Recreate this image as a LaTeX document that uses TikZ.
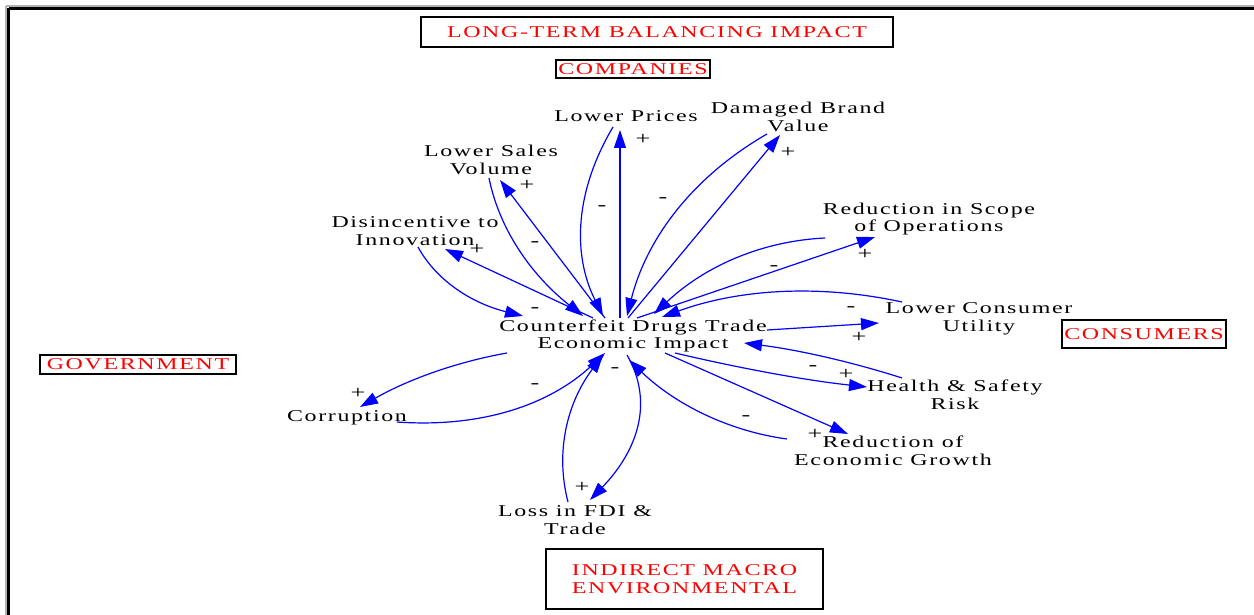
\documentclass[tikz,border=0pt]{standalone}
\usepackage{fontspec}
\setmainfont{Liberation Serif}[FakeStretch=1.45,LetterSpace=10]
\usetikzlibrary{arrows.meta,calc}
\begin{document}
\begin{tikzpicture}[x=1pt,y=-1pt,
  lbl/.style={font=\fontsize{16.5}{17.5}\selectfont, align=center, inner sep=1pt},
  sgn/.style={font=\fontsize{18}{18}\selectfont, inner sep=0pt},
  sector/.style={draw=black, line width=1.3pt, text=red, font=\fontsize{16.5}{17.5}\selectfont, align=center, inner sep=0pt},
  link/.style={draw=blue, line width=1.2pt, -{Triangle[length=18pt,width=12pt]}},
]
\useasboundingbox (0,0) rectangle (1254,615);
\fill[white] (0,0) rectangle (1254,615);

% page frame (top and left edges)
\draw[gray!60, line width=1.5pt] (5.5,6) -- (1254,6);
\draw[gray!60, line width=1.5pt] (6,6) -- (6,615);
\draw[black, line width=3pt] (8.5,8.5) -- (1254,8.5);
\draw[black, line width=3pt] (8.5,8.5) -- (8.5,615);

% sector boxes
\node[sector, minimum width=472pt, minimum height=30pt] (ltbi) at (657,32) {LONG-TERM BALANCING IMPACT};
\node[sector, minimum width=154pt, minimum height=18pt] (comp) at (633,69) {COMPANIES};
\node[sector, minimum width=196pt, minimum height=19pt] (gov) at (138,364.5) {GOVERNMENT};
\node[sector, minimum width=164pt, minimum height=28pt] (cons) at (1144,334) {CONSUMERS};
\node[sector, minimum width=277pt, minimum height=60pt] (macro) at (684.5,579) {INDIRECT MACRO\\ENVIRONMENTAL};

% variables
\node[lbl] (hub) at (633,336) {Counterfeit Drugs Trade\\Economic Impact};
\node[lbl] (lp)  at (626,116) {Lower Prices};
\node[lbl] (db)  at (798,117) {Damaged Brand\\Value};
\node[lbl] (ls)  at (491,160) {Lower Sales\\Volume};
\node[lbl] (di)  at (415,231) {Disincentive to\\Innovation};
\node[lbl] (rs)  at (929,219) {Reduction in Scope\\of Operations};
\node[lbl] (lc)  at (979,319) {Lower Consumer\\Utility};
\node[lbl] (hs)  at (955,395) {Health \& Safety\\Risk};
\node[lbl] (re)  at (893,451) {Reduction of\\Economic Growth};
\node[lbl] (fdi) at (575,520) {Loss in FDI \&\\Trade};
\node[lbl] (co)  at (347,418) {Corruption};

% causal links
\draw[link] ($(hub)+(-40,-18)$) -- ($(di)+(30,18)$);
\draw[link] ($(di)+(3,16)$) .. controls (436,280) and (471,303) .. ($(hub)+(-110,-20)$);

\draw[link] ($(hub)+(-28,-18)$) -- ($(ls)+(9,20)$);
\draw[link] ($(ls)+(-2,18)$) .. controls (499,228) and (530,274) .. ($(hub)+(-50,-20)$);

\draw[link] ($(hub)+(-13,-18)$) -- ($(lp)+(-6,14)$);
\draw[link] ($(lp)+(-13,11)$) .. controls (575,191) and (572,254) .. ($(hub)+(-30,-20)$);

\draw[link] ($(hub)+(-5,-18)$) -- ($(db)+(-18,18)$);
\draw[link] ($(db)+(-31,17)$) .. controls (694,176) and (647,237) .. ($(hub)+(-6,-20)$);

\draw[link] ($(hub)+(4,-18)$) -- ($(rs)+(-54,18)$);
\draw[link] ($(rs)+(-104,19)$) .. controls (762,241) and (705,266) .. ($(hub)+(21,-22)$);

\draw[link] ($(hub)+(134,-6)$) -- ($(lc)+(-100,4)$);
\draw[link] ($(lc)+(-77,-17)$) .. controls (819,284) and (739,289) .. ($(hub)+(29,-19)$);

\draw[link] ($(hub)+(42,17)$) .. controls (739,368) and (803,380) .. ($(hs)+(-88,-8)$);
\draw[link] ($(hs)+(-53,-17)$) .. controls (852,362) and (799,350) .. ($(hub)+(111,7)$);

\draw[link] ($(hub)+(32,17)$) -- ($(re)+(-45,-17)$);
\draw[link] ($(re)+(-106,-12)$) .. controls (728,431) and (675,404) .. ($(hub)+(-4,24)$);

\draw[link] ($(hub)+(-6,19)$) .. controls (653,400) and (640,448) .. ($(fdi)+(15,-20)$);
\draw[link] ($(fdi)+(-7,-18)$) .. controls (555,452) and (567,403) .. ($(hub)+(-30,19)$);

\draw[link] ($(hub)+(-126,17)$) .. controls (456,362) and (407,380) .. ($(co)+(13,-11)$);
\draw[link] ($(co)+(50,4)$) .. controls (481,428) and (550,405) .. ($(hub)+(-28,17)$);

% polarity signs
\node[sgn] (s1)  at (643,139) {+};
\node[sgn] (s2)  at (602,208) {-};
\node[sgn] (s3)  at (788,152) {+};
\node[sgn] (s4)  at (663,200) {-};
\node[sgn] (s5)  at (527,185) {+};
\node[sgn] (s6)  at (535,244) {-};
\node[sgn] (s7)  at (477,249) {+};
\node[sgn] (s8)  at (535,310) {-};
\node[sgn] (s9)  at (865,254) {+};
\node[sgn] (s10) at (774,268) {-};
\node[sgn] (s11) at (851,309) {-};
\node[sgn] (s12) at (859,337) {+};
\node[sgn] (s13) at (813,368) {-};
\node[sgn] (s14) at (846,374) {+};
\node[sgn] (s15) at (746,418) {-};
\node[sgn] (s16) at (815,434) {+};
\node[sgn] (s17) at (615,370) {-};
\node[sgn] (s18) at (582,487) {+};
\node[sgn] (s19) at (358,393) {+};
\node[sgn] (s20) at (535,386) {-};
\end{tikzpicture}
\end{document}
